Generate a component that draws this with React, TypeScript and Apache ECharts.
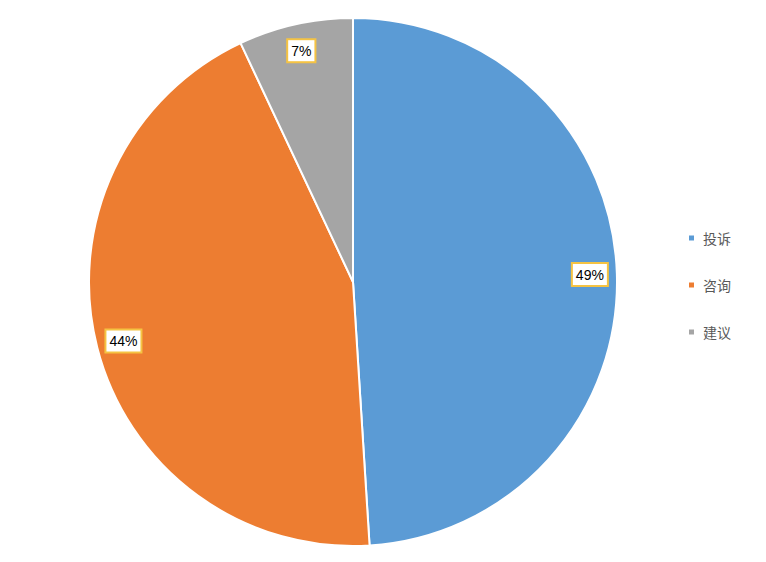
import React, { useEffect, useRef } from "react";
import * as echarts from "echarts";

// Categories (legend order)
const categories = ["投诉", "咨询", "建议"];
// Percent values shown on the slices
const values = [49, 44, 7];
const sliceColors = ["#5B9BD5", "#ED7D31", "#A5A5A5"];

export default function App() {
  const ref = useRef<HTMLDivElement>(null);
  useEffect(() => {
    if (!ref.current) return;
    const chart = echarts.init(ref.current, null, { renderer: "svg" });
    const data = categories.map((name, i) => ({
      name,
      value: values[i],
      itemStyle: { color: sliceColors[i] },
    }));
    chart.setOption({
      animation: false,
      backgroundColor: "#ffffff",
      legend: {
        orient: "vertical",
        left: 687,
        top: 231,
        padding: 0,
        data: categories,
        icon: "rect",
        itemWidth: 7,
        itemHeight: 7,
        itemGap: 33,
        textStyle: {
          color: "#595959",
          fontSize: 14,
          fontFamily: "Noto Sans CJK SC",
          padding: [0, 0, 0, 3],
        },
      },
      series: [
        {
          type: "pie",
          center: [353, 282],
          radius: [0, 264],
          startAngle: 90,
          clockwise: true,
          data,
          label: { show: false },
          labelLine: { show: false },
          itemStyle: { borderColor: "#ffffff", borderWidth: 2 },
          emphasis: { disabled: true },
        },
        {
          type: "pie",
          center: [353, 282],
          radius: [204, 264],
          startAngle: 90,
          clockwise: true,
          silent: true,
          data: categories.map((name, i) => ({
            name,
            value: values[i],
            itemStyle: { color: "rgba(0,0,0,0)" },
          })),
          itemStyle: { borderWidth: 0 },
          label: {
            show: true,
            position: "inside",
            formatter: "{c}%",
            color: "#000000",
            fontSize: 14,
            fontFamily: "Liberation Sans, Arial, sans-serif",
            backgroundColor: "#ffffff",
            borderColor: "#F5C343",
            borderWidth: 2,
            padding: [4, 3, 3, 3],
          },
          labelLine: { show: false },
          emphasis: { disabled: true },
        },
      ],
    });
    return () => chart.dispose();
  }, []);
  return (
    <div
      ref={ref}
      style={{ position: "fixed", left: 0, top: 0, width: 766, height: 562 }}
    />
  );
}
